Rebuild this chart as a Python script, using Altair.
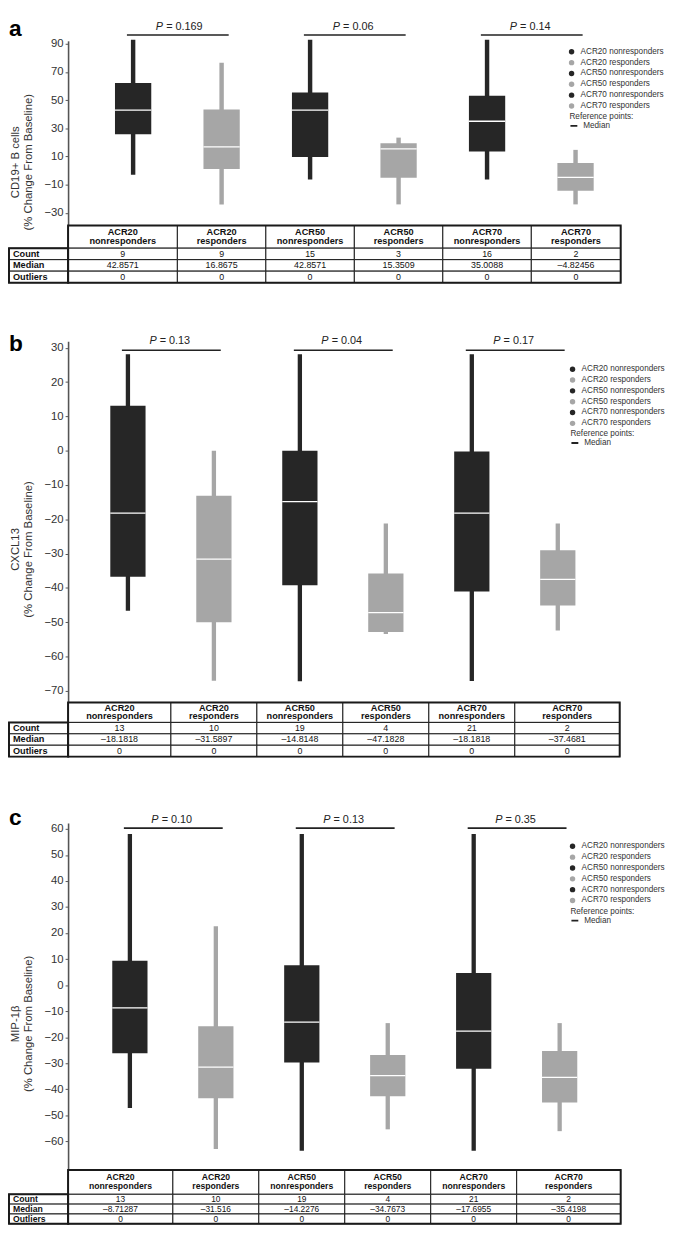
import altair as alt
import pandas as pd

FONT = "Liberation Sans"
DARK = "#262626"
GRAY = "#a6a6a6"

GROUPS = ["ACR20 nonresponders", "ACR20 responders", "ACR50 nonresponders",
          "ACR50 responders", "ACR70 nonresponders", "ACR70 responders"]
ROW_LABELS = ["Count", "Median", "Outliers"]

# ---------- panel a : CD19+ B cells ----------
A_TITLE = ["CD19+ B cells", "(% Change From Baseline)"]
A_TICKS = [90, 70, 50, 30, 10, -10, -30]
A_MAX = [92.8, 76.5, 92.8, 23.4, 92.8, 14.7]
A_Q3 = [62.2, 43.4, 55.5, 19.4, 53.2, 5.4]
A_MED = [42.8571, 16.8675, 42.8571, 15.3509, 35.0088, -4.82456]
A_Q1 = [25.7, 1.2, 9.6, -5.1, 13.6, -14.4]
A_MIN = [-3.0, -24.0, -6.3, -24.0, -6.3, -24.0]
A_COUNT = [9, 9, 15, 3, 16, 2]
A_OUTLIERS = [0, 0, 0, 0, 0, 0]
A_P = ["0.169", "0.06", "0.14"]

# ---------- panel b : CXCL13 ----------
B_TITLE = ["CXCL13", "(% Change From Baseline)"]
B_TICKS = [30, 20, 10, 0, -10, -20, -30, -40, -50, -60, -70]
B_MAX = [28.1, 0.0, 28.1, -21.2, 28.1, -21.2]
B_Q3 = [13.1, -13.1, 0.0, -35.8, -0.2, -29.0]
B_MED = [-18.1818, -31.5897, -14.8148, -47.1828, -18.1818, -37.4681]
B_Q1 = [-36.7, -50.0, -39.2, -52.8, -41.0, -45.1]
B_MIN = [-46.6, -67.0, -67.2, -53.4, -67.1, -52.4]
B_COUNT = [13, 10, 19, 4, 21, 2]
B_OUTLIERS = [0, 0, 0, 0, 0, 0]
B_P = ["0.13", "0.04", "0.17"]

# ---------- panel c : MIP-1beta ----------
C_TITLE = ["MIP-1β", "(% Change From Baseline)"]
C_TICKS = [60, 50, 40, 30, 20, 10, 0, -10, -20, -30, -40, -50, -60]
C_MAX = [58.0, 22.6, 58.0, -14.6, 58.0, -14.6]
C_Q3 = [9.4, -15.8, 7.6, -26.8, 4.7, -25.3]
C_MED = [-8.71287, -31.516, -14.2276, -34.7673, -17.6955, -35.4198]
C_Q1 = [-26.2, -43.5, -29.7, -42.7, -32.1, -45.1]
C_MIN = [-47.2, -63.0, -63.6, -55.4, -63.6, -56.1]
C_COUNT = [13, 10, 19, 4, 21, 2]
C_OUTLIERS = [0, 0, 0, 0, 0, 0]
C_P = ["0.10", "0.13", "0.35"]

# ---------- layout (style only) ----------
LAY_A = dict(letter="a", xdom=[-0.735, 5.51], width=561, ydom=[-39.0, 92.1], height=187.5,
             theight=58, hdr=1.97, ybr=96.3, ytx=101.9, ylet=95.6,
             lx=507, ly=7, rly=72, tfs=9.3)
LAY_B = dict(letter="b", xdom=[-0.696, 5.72], width=560, ydom=[-73.36, 31.9], height=366.7,
             theight=55, hdr=1.75, ybr=29.3, ytx=31.9, ylet=29.0,
             lx=508, ly=24.2, rly=89, tfs=9.3)
LAY_C = dict(letter="c", xdom=[-0.719, 5.71], width=561, ydom=[-71.0, 62.3], height=352.3,
             theight=54.7, hdr=2.47, ybr=60.3, ytx=63.4, ylet=61.5,
             lx=508, ly=19.6, rly=85, tfs=8.8)

BOX_HALF = 0.205
WHISK_HALF = 0.025
LABEL_COL_PX = 60
LEG_FS = 8.3


def fmt(v):
    return f"{v:.6g}".replace("-", "\u2013")


def build_panel(ytitle, ticks, mx, q3, med, q1, mn, count, outliers, pvals, lay):
    dmin, dmax = lay["xdom"]
    lo, hi = lay["ydom"]
    ph, th = lay["height"], lay["theight"]
    ppu_y = ph / (hi - lo)
    lo_ext = lo - th / ppu_y          # value scale continues through the table strip
    xs = alt.Scale(domain=[dmin, dmax], nice=False, zero=False)
    ys = alt.Scale(domain=[lo_ext, hi], nice=False, zero=False)
    yaxis = alt.Axis(values=ticks, title=ytitle, grid=False)
    ppu_x = lay["width"] / (dmax - dmin)
    label_left = dmin - LABEL_COL_PX / ppu_x
    n = len(GROUPS)

    box = pd.DataFrame({
        "group": GROUPS, "i": list(range(n)), "mn": mn, "q1": q1, "med": med, "q3": q3,
        "mx": mx, "ref": ["Median"] * n,
    })
    box["bx0"] = box["i"] - BOX_HALF
    box["bx1"] = box["i"] + BOX_HALF
    box["wx0"] = box["i"] - WHISK_HALF
    box["wx1"] = box["i"] + WHISK_HALF

    color = alt.Color(
        "group:N",
        scale=alt.Scale(domain=GROUPS, range=[DARK, GRAY] * 3),
        legend=alt.Legend(title=None, orient="none", legendX=lay["lx"], legendY=lay["ly"],
                          symbolType="circle", symbolSize=30, labelFontSize=LEG_FS,
                          rowPadding=10.3 - LEG_FS, labelOffset=5, padding=0,
                          labelColor="#333"),
    )
    base = alt.Chart(box)
    whisk = base.mark_bar().encode(
        x=alt.X("wx0:Q", scale=xs, axis=None), x2="wx1:Q",
        y=alt.Y("mn:Q", scale=ys, axis=yaxis), y2="mx:Q", color=color)
    boxes = base.mark_bar().encode(
        x=alt.X("bx0:Q", scale=xs, axis=None), x2="bx1:Q",
        y=alt.Y("q1:Q", scale=ys, axis=yaxis), y2="q3:Q", color=color)
    medl = base.mark_rule(color="white", strokeWidth=1.3).encode(
        x=alt.X("bx0:Q", scale=xs, axis=None), x2="bx1:Q",
        y=alt.Y("med:Q", scale=ys, axis=yaxis),
        strokeDash=alt.StrokeDash(
            "ref:N", scale=alt.Scale(domain=["Median"], range=[[1, 0]]),
            legend=alt.Legend(title="Reference points:", orient="none", legendX=lay["lx"] + 2,
                              legendY=lay["rly"], symbolType="stroke", symbolStrokeColor="#222",
                              symbolStrokeWidth=1.8, symbolSize=49, titleFontSize=LEG_FS,
                              titleFontWeight="normal", labelFontSize=LEG_FS, titlePadding=1.5,
                              labelOffset=5, padding=0, titleColor="#333", labelColor="#333")))

    pdf = pd.DataFrame({
        "x0": [2 * k - 0.07 for k in range(3)],
        "x1": [2 * k + 1.08 for k in range(3)],
        "xm": [2 * k + 0.5 for k in range(3)],
        "yb": [lay["ybr"]] * 3,
        "yt": [lay["ytx"]] * 3,
        "p": ["P"] * 3,
        "rest": ["= " + p for p in pvals],
    })
    pbase = alt.Chart(pdf)
    prule = pbase.mark_rule(color="#222", strokeWidth=1.6).encode(
        x=alt.X("x0:Q", scale=xs, axis=None), x2="x1:Q",
        y=alt.Y("yb:Q", scale=ys, axis=yaxis))
    ptxt1 = pbase.mark_text(align="right", baseline="middle", fontStyle="italic",
                            fontSize=11, dx=-14.5, color="#222").encode(
        x=alt.X("xm:Q", scale=xs, axis=None), y=alt.Y("yt:Q", scale=ys, axis=yaxis), text="p:N")
    ptxt2 = pbase.mark_text(align="left", baseline="middle", fontSize=11, dx=-11.4,
                            color="#222").encode(
        x=alt.X("xm:Q", scale=xs, axis=None), y=alt.Y("yt:Q", scale=ys, axis=yaxis), text="rest:N")

    ldf = pd.DataFrame({"x": [label_left], "y": [lay["ylet"]], "t": [lay["letter"]]})
    letter = alt.Chart(ldf).mark_text(align="left", baseline="alphabetic", fontSize=23,
                                      fontWeight="bold", color="black").encode(
        x=alt.X("x:Q", scale=xs, axis=None), y=alt.Y("y:Q", scale=ys, axis=yaxis), text="t:N")

    plot = alt.layer(whisk, boxes, medl, prule, ptxt1, ptxt2, letter)

    # ----- table (own row scale, drawn in the strip under the plot) -----
    H = lay["hdr"]
    nunits = H + len(ROW_LABELS)
    tpu = th / nunits                  # px per table unit
    top_u = ph / tpu                   # table starts below the plot strip
    total_u = (ph + th) / tpu
    rows = [count, [fmt(v) for v in med], outliers]
    cells = []
    for i, g in enumerate(GROUPS):
        x0 = dmin if i == 0 else i - 0.5
        x1 = dmax if i == n - 1 else i + 0.5
        w1, w2 = g.split(" ")
        cells.append(dict(x0=x0, x1=x1, r0=top_u, r1=top_u + H, txt="", kind="cell",
                          rc=top_u + H / 2))
        cells.append(dict(x0=x0, x1=x1, r0=top_u, r1=top_u, txt=w1, kind="h",
                          rc=top_u + H * 0.30))
        cells.append(dict(x0=x0, x1=x1, r0=top_u, r1=top_u, txt=w2, kind="h",
                          rc=top_u + H * 0.68))
        for r, vals in enumerate(rows):
            cells.append(dict(x0=x0, x1=x1, r0=top_u + H + r, r1=top_u + H + r + 1,
                              txt=str(vals[i]), kind="val", rc=top_u + H + r + 0.5))
    for r, lab in enumerate(ROW_LABELS):
        cells.append(dict(x0=label_left, x1=dmin, r0=top_u + H + r, r1=top_u + H + r + 1,
                          txt=lab, kind="lab", rc=top_u + H + r + 0.5))
    # outer frames (drawn heavier)
    cells.append(dict(x0=dmin, x1=dmax, r0=top_u, r1=total_u, txt="", kind="frame", rc=0))
    cells.append(dict(x0=label_left, x1=dmin, r0=top_u + H, r1=total_u, txt="", kind="frame",
                      rc=0))
    tdf = pd.DataFrame(cells)
    tdf["xc"] = (tdf["x0"] + tdf["x1"]) / 2

    ts = alt.Scale(domain=[0, total_u], reverse=True, nice=False, zero=False)
    tbase = alt.Chart(tdf)
    tx = alt.X("x0:Q", scale=xs, axis=None)
    rects = tbase.transform_filter(
        (alt.datum.kind == "cell") | (alt.datum.kind == "val") | (alt.datum.kind == "lab")
    ).mark_rect(fill="white", stroke="#1a1a1a", strokeWidth=1.0).encode(
        x=tx, x2="x1:Q", y=alt.Y("r0:Q", scale=ts, axis=None), y2="r1:Q")
    frames = tbase.transform_filter(alt.datum.kind == "frame").mark_rect(
        fillOpacity=0, stroke="#1a1a1a", strokeWidth=2.0).encode(
        x=tx, x2="x1:Q", y=alt.Y("r0:Q", scale=ts, axis=None), y2="r1:Q")
    htxt = tbase.transform_filter(alt.datum.kind == "h").mark_text(
        fontWeight="bold", fontSize=lay["tfs"], baseline="middle", color="#111").encode(
        x=alt.X("xc:Q", scale=xs, axis=None), y=alt.Y("rc:Q", scale=ts, axis=None), text="txt:N")
    vtxt = tbase.transform_filter(alt.datum.kind == "val").mark_text(
        fontSize=lay["tfs"] - 0.3, baseline="middle", color="#111").encode(
        x=alt.X("xc:Q", scale=xs, axis=None), y=alt.Y("rc:Q", scale=ts, axis=None), text="txt:N")
    ltxt = tbase.transform_filter(alt.datum.kind == "lab").mark_text(
        fontWeight="bold", fontSize=lay["tfs"], align="left", dx=4, baseline="middle",
        color="#111").encode(
        x=tx, y=alt.Y("rc:Q", scale=ts, axis=None), text="txt:N")
    table = alt.layer(rects, frames, htxt, vtxt, ltxt)

    return alt.layer(plot, table).resolve_scale(y="independent").properties(
        width=lay["width"], height=ph + th)


pa = build_panel(A_TITLE, A_TICKS, A_MAX, A_Q3, A_MED, A_Q1, A_MIN, A_COUNT, A_OUTLIERS, A_P, LAY_A)
pb = build_panel(B_TITLE, B_TICKS, B_MAX, B_Q3, B_MED, B_Q1, B_MIN, B_COUNT, B_OUTLIERS, B_P, LAY_B)
pc = build_panel(C_TITLE, C_TICKS, C_MAX, C_Q3, C_MED, C_Q1, C_MIN, C_COUNT, C_OUTLIERS, C_P, LAY_C)

RES = dict(x="independent", y="independent", color="independent", strokeDash="independent")
chart = alt.vconcat(pa, pb, pc, spacing=50).resolve_scale(**RES).resolve_legend(
    color="independent", strokeDash="independent"
).properties(
    padding={"left": 0, "top": 0, "right": 0, "bottom": 0}, background="white"
).configure_view(stroke=None).configure_axis(
    labelFont=FONT, titleFont=FONT, labelFontSize=11.5, titleFontSize=11.5,
    labelColor="#333", titleColor="#333", titleFontWeight="normal", titleLineHeight=13,
    domainColor="#555", domainWidth=1.6, tickColor="#555", tickSize=3, tickWidth=1,
    labelPadding=2, titlePadding=11,
).configure_legend(labelFont=FONT, titleFont=FONT).configure_text(font=FONT)

chart.save("out.html", embed_options={"renderer": "svg", "actions": False})
